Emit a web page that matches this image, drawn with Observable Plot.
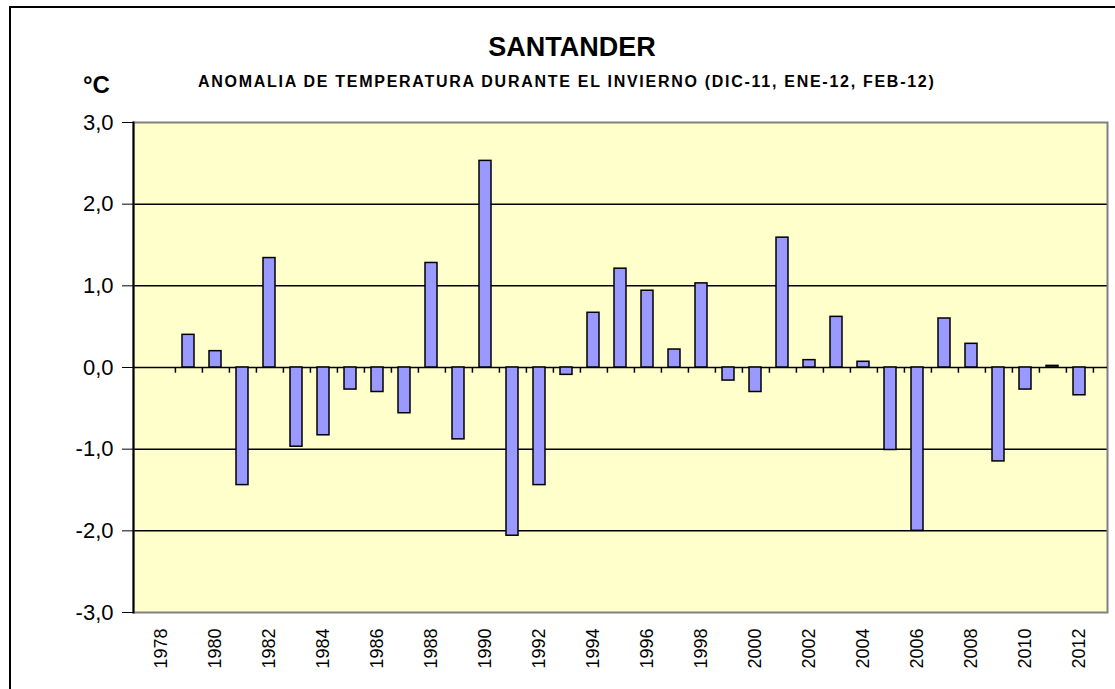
<!DOCTYPE html>
<html>
<head>
<meta charset="utf-8">
<script src="https://cdn.jsdelivr.net/npm/d3@7"></script>
<script src="https://cdn.jsdelivr.net/npm/@observablehq/plot@0.6"></script>
<style>
  html, body { margin: 0; padding: 0; background: #ffffff; }
  #wrap { position: relative; width: 1115px; height: 689px; overflow: hidden; font-family: "Liberation Sans", Arial, sans-serif; }
  #border { position: absolute; left: 9px; top: 6px; width: 1200px; height: 800px; border: 2px solid #000; box-sizing: border-box; }
  .t { position: absolute; white-space: nowrap; font-weight: bold; color: #000; line-height: 1; }
  #title { left: 0; width: 1144px; text-align: center; top: 34px; font-size: 27px; }
  #subtitle { left: 198px; top: 73.5px; font-size: 16px; letter-spacing: 1.72px; }
  #unit { left: 83px; top: 73px; font-size: 24px; }
  #chart { position: absolute; left: 0; top: 0; }
</style>
</head>
<body>
<div id="wrap">
  <div id="border"></div>
  <div class="t" id="title">SANTANDER</div>
  <div class="t" id="subtitle">ANOMALIA DE TEMPERATURA DURANTE EL INVIERNO (DIC-11, ENE-12, FEB-12)</div>
  <div class="t" id="unit">°C</div>
  <div id="chart"></div>
</div>
<script>
const years = [1978, 1979, 1980, 1981, 1982, 1983, 1984, 1985, 1986, 1987, 1988, 1989, 1990, 1991, 1992, 1993, 1994, 1995, 1996, 1997, 1998, 1999, 2000, 2001, 2002, 2003, 2004, 2005, 2006, 2007, 2008, 2009, 2010, 2011, 2012];
const anomalies = [null, 0.40, 0.20, -1.44, 1.34, -0.97, -0.83, -0.27, -0.30, -0.56, 1.28, -0.88, 2.53, -2.06, -1.44, -0.09, 0.67, 1.21, 0.94, 0.22, 1.03, -0.16, -0.30, 1.59, 0.09, 0.62, 0.07, -1.01, -2.00, 0.60, 0.29, -1.15, -0.27, 0.02, -0.34];
const xTickLabels = [1978, 1980, 1982, 1984, 1986, 1988, 1990, 1992, 1994, 1996, 1998, 2000, 2002, 2004, 2006, 2008, 2010, 2012];
const yTicks = [-3, -2, -1, 0, 1, 2, 3];
const gridLines = [-2, -1, 1, 2];

const data = years.map((year, i) => ({year, value: anomalies[i]})).filter(d => d.value !== null);

const W = 1115, H = 689, mL = 133, mR = 8, mT = 122, mB = 77;
const step = (W - mL - mR) / years.length;

const chart = Plot.plot({
  width: W,
  height: H,
  marginLeft: mL,
  marginRight: mR,
  marginTop: mT,
  marginBottom: mB,
  style: { fontFamily: '"Liberation Sans", Arial, sans-serif', fontSize: "18px", background: "transparent", color: "#000", overflow: "visible" },
  x: { type: "band", domain: years, paddingInner: 0.57, paddingOuter: 0.285 },
  y: { domain: [-3, 3] },
  marks: [
    Plot.frame({ fill: "#FFFFCC" }),
    Plot.ruleY(gridLines, { stroke: "#000", strokeWidth: 1.5 }),
    Plot.frame({ stroke: "#808080", strokeWidth: 2 }),
    Plot.frame({ anchor: "left", stroke: "#000", strokeWidth: 2 }),
    Plot.ruleY([0], { stroke: "#000", strokeWidth: 1.5 }),
    Plot.ruleX(years, { x: d => d, y1: 0, y2: -0.07, dx: step / 2, stroke: "#000", strokeWidth: 1.5 }),
    Plot.barY(data, { x: "year", y: "value", fill: "#9999FF", stroke: "#000", strokeWidth: 1.5 }),
    Plot.axisY({ ticks: yTicks, tickFormat: d => d.toFixed(1).replace(".", ","), tickSize: 11, tickPadding: 9, fontSize: 22, label: null }),
    Plot.axisX({ ticks: xTickLabels, tickFormat: d => String(d), tickRotate: -90, tickSize: 0, tickPadding: 16, fontSize: 18, label: null })
  ]
});
document.getElementById("chart").appendChild(chart);
</script>
</body>
</html>
